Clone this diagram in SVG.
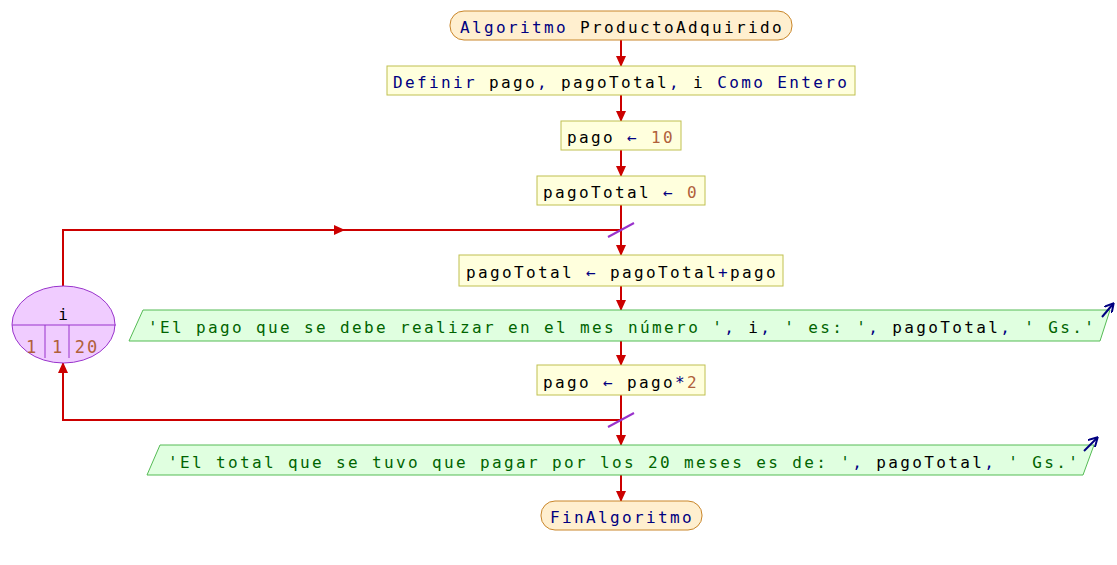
<svg xmlns="http://www.w3.org/2000/svg" width="1117" height="565" viewBox="0 0 1117 565">
<style>
text{font-family:"DejaVu Sans Mono","Liberation Mono",monospace;font-size:16px;letter-spacing:2.37px;fill:#000}
.kw{fill:#000080}.num{fill:#b0603a}.str{fill:#006400}
.term{fill:#ffefcf;stroke:#c9862a;stroke-width:1}
.proc{fill:#ffffdd;stroke:#c0c050;stroke-width:1}
.io{fill:#e0ffe0;stroke:#55bb55;stroke-width:1}
.loop{fill:#f0ccff;stroke:#9933cc;stroke-width:1}
.c{fill:none;stroke:#cc0000;stroke-width:2}
.sl{stroke:#9933cc;stroke-width:2}
.oa{stroke:#000080;stroke-width:2;fill:none}
.ln{stroke:#9933cc;stroke-width:1}
</style>
<defs>
<marker id="ah" markerWidth="11" markerHeight="10" refX="10" refY="5" orient="auto" markerUnits="userSpaceOnUse"><path d="M0,0 L11,5 L0,10 Z" fill="#cc0000"/></marker>
<marker id="oh" markerWidth="10" markerHeight="10" refX="8" refY="5" orient="auto" markerUnits="userSpaceOnUse"><path d="M0,0 L9,5 L0,10" fill="none" stroke="#000080" stroke-width="2"/></marker>
</defs>
<g id="connectors">
<line class="c" x1="621" y1="40" x2="621" y2="66" marker-end="url(#ah)"/>
<line class="c" x1="621" y1="95" x2="621" y2="121" marker-end="url(#ah)"/>
<line class="c" x1="621" y1="150" x2="621" y2="176" marker-end="url(#ah)"/>
<line class="c" x1="621" y1="205" x2="621" y2="255" marker-end="url(#ah)"/>
<line class="c" x1="621" y1="286" x2="621" y2="310" marker-end="url(#ah)"/>
<line class="c" x1="621" y1="341" x2="621" y2="365" marker-end="url(#ah)"/>
<line class="c" x1="621" y1="395" x2="621" y2="445" marker-end="url(#ah)"/>
<line class="c" x1="621" y1="475" x2="621" y2="501" marker-end="url(#ah)"/>
<path class="c" d="M63,286 V230 H344" marker-end="url(#ah)"/>
<path class="c" d="M340,230 H621"/>
<path class="c" d="M621,420 H63 V363" marker-end="url(#ah)"/>
<line class="sl" x1="608" y1="237" x2="634" y2="223"/>
<line class="sl" x1="608" y1="427" x2="634" y2="413"/>
</g>
<g id="start">
<rect class="term" x="450" y="11" width="342" height="29" rx="14"/>
<text x="460" y="33"><tspan class="kw">Algoritmo</tspan> ProductoAdquirido</text>
</g>
<g id="definir">
<rect class="proc" x="387" y="66" width="468" height="29"/>
<text x="393" y="88"><tspan class="kw">Definir</tspan> pago<tspan class="kw">,</tspan> pagoTotal<tspan class="kw">,</tspan> i <tspan class="kw">Como Entero</tspan></text>
</g>
<g id="asig1">
<rect class="proc" x="561" y="121" width="120" height="29"/>
<text x="567" y="143">pago <tspan class="kw">←</tspan> <tspan class="num">10</tspan></text>
</g>
<g id="asig2">
<rect class="proc" x="537" y="176" width="168" height="29"/>
<text x="543" y="198">pagoTotal <tspan class="kw">←</tspan> <tspan class="num">0</tspan></text>
</g>
<g id="loop">
<ellipse class="loop" cx="63.5" cy="324.5" rx="51.5" ry="38.5"/>
<line class="ln" x1="12" y1="325" x2="116" y2="325"/>
<line class="ln" x1="45" y1="325" x2="45" y2="358"/>
<line class="ln" x1="69" y1="325" x2="69" y2="358"/>
<text x="63" y="320" text-anchor="middle" style="letter-spacing:0">i</text>
<text class="num" x="31" y="353" text-anchor="middle" style="letter-spacing:0;font-size:17px">1</text>
<text class="num" x="57" y="353" text-anchor="middle" style="letter-spacing:0;font-size:17px">1</text>
<text class="num" x="86" y="353" text-anchor="middle" style="letter-spacing:2px;font-size:17px">2<tspan style="letter-spacing:0">0</tspan></text>
</g>
<g id="asig3">
<rect class="proc" x="459" y="255" width="324" height="31"/>
<text x="466" y="278">pagoTotal <tspan class="kw">←</tspan> pagoTotal<tspan class="kw">+</tspan>pago</text>
</g>
<g id="out1">
<polygon class="io" points="143,310 1110,310 1100,341 129,341"/>
<line class="oa" x1="1102" y1="317" x2="1113" y2="304" marker-end="url(#oh)"/>
<text x="148" y="333"><tspan class="str">'El pago que se debe realizar en el mes número '</tspan><tspan class="kw">,</tspan> i<tspan class="kw">,</tspan> <tspan class="str">' es: '</tspan><tspan class="kw">,</tspan> pagoTotal<tspan class="kw">,</tspan> <tspan class="str">' Gs.'</tspan></text>
</g>
<g id="asig4">
<rect class="proc" x="537" y="365" width="168" height="30"/>
<text x="543" y="388">pago <tspan class="kw">←</tspan> pago<tspan class="kw">*</tspan><tspan class="num">2</tspan></text>
</g>
<g id="out2">
<polygon class="io" points="160,445 1094,445 1083,475 147,475"/>
<line class="oa" x1="1084" y1="451" x2="1097" y2="438" marker-end="url(#oh)"/>
<text x="168" y="468"><tspan class="str">'El total que se tuvo que pagar por los 20 meses es de: '</tspan><tspan class="kw">,</tspan> pagoTotal<tspan class="kw">,</tspan> <tspan class="str">' Gs.'</tspan></text>
</g>
<g id="end">
<rect class="term" x="541" y="501" width="161" height="29" rx="14"/>
<text x="550" y="523" class="kw">FinAlgoritmo</text>
</g>
</svg>
